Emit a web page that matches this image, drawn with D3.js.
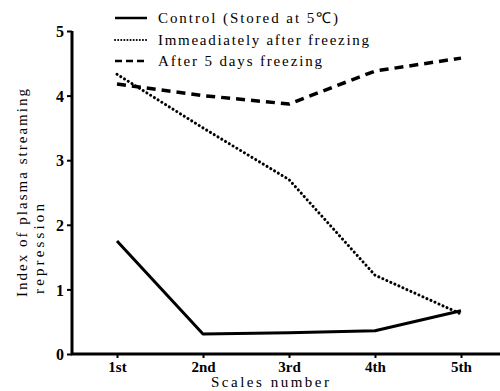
<!DOCTYPE html>
<html><head><meta charset="utf-8">
<script src="https://cdn.jsdelivr.net/npm/d3@7"></script>
</head><body>
<script>
const categories = ["1st","2nd","3rd","4th","5th"];
const control = [1.75, 0.31, 0.33, 0.36, 0.67];
const immediate = [4.33, 3.5, 2.7, 1.22, 0.62];
const after5 = [4.18, 4.0, 3.87, 4.38, 4.58];
const yTicks = [0,1,2,3,4,5];
const seriesNames = ["Control (Stored at 5\u2103)", "Immeadiately after freezing", "After 5 days freezing"];

const FONT="Liberation Serif";
const W=500,H=391;
d3.select("body").style("margin","0px");
const svg=d3.select("body").append("svg").attr("width",W).attr("height",H)
  .style("display","block");
const x=d3.scalePoint().domain(categories).range([117,461]);
const y=d3.scaleLinear().domain([0,5]).range([354,31]);

// axes
const yAxis=svg.append("g").attr("transform","translate(72,0)")
  .call(d3.axisLeft(y).tickValues(yTicks).tickSize(5).tickPadding(3).tickFormat(d3.format("d")));
yAxis.select(".domain").attr("stroke","#000").attr("stroke-width",3).attr("d","M0,31V355");
yAxis.selectAll(".tick line").attr("stroke-width",2);
yAxis.selectAll(".tick text").attr("font-size",16).attr("font-weight","bold").attr("dy","0.35em");

const xAxis=svg.append("g").attr("transform","translate(0,354)")
  .call(d3.axisBottom(x).tickSize(-4).tickPadding(7).tickSizeOuter(0));
xAxis.select(".domain").attr("stroke","#000").attr("stroke-width",3).attr("d","M71,0H500");
xAxis.selectAll(".tick line").attr("stroke-width",2).attr("y1",-1).attr("y2",4);
xAxis.selectAll(".tick text").attr("font-size",15).attr("font-weight","bold");

svg.append("text").attr("x",270).attr("y",387).attr("text-anchor","middle")
  .attr("font-size",15).attr("textLength",118).text("Scales number");

svg.append("text").attr("transform","translate(27,297) rotate(-90)")
  .attr("textLength",208).attr("font-size",15).text("Index of plasma streaming");
svg.append("text").attr("transform","translate(44,294) rotate(-90)")
  .attr("textLength",90).attr("font-size",15).text("repression");

const lineLin=d3.line().x((d,i)=>x(categories[i])).y(d=>y(d));

const styles=[
  {data:control,dash:null,w:3,cap:"butt"},
  {data:immediate,dash:"0.1,4.3",w:3,cap:"round"},
  {data:after5,dash:"9,6",w:3.5,cap:"butt"}
];
styles.forEach(s=>{
  svg.append("path").attr("d",lineLin(s.data)).attr("fill","none").attr("stroke","#000")
    .attr("stroke-width",s.w).attr("stroke-dasharray",s.dash).attr("stroke-linecap",s.cap)
    .attr("stroke-linejoin","round");
});

// legend
const ly=[18,40,61];
const lw=[180,211,164];
styles.forEach((s,i)=>{
  svg.append("line").attr("x1",115).attr("x2",147).attr("y1",ly[i]).attr("y2",ly[i])
    .attr("stroke","#000").attr("stroke-width",i==1?2:2.5)
    .attr("stroke-dasharray",i==0?null:(i==1?"0.1,3":"7,4")).attr("stroke-linecap",i==1?"round":"butt");
  svg.append("text").attr("x",158).attr("y",ly[i]+5).attr("font-size",15)
    .attr("textLength",lw[i]).text(seriesNames[i]);
});
svg.selectAll("text").attr("font-family",FONT).attr("fill","#000");
</script>
</body></html>
